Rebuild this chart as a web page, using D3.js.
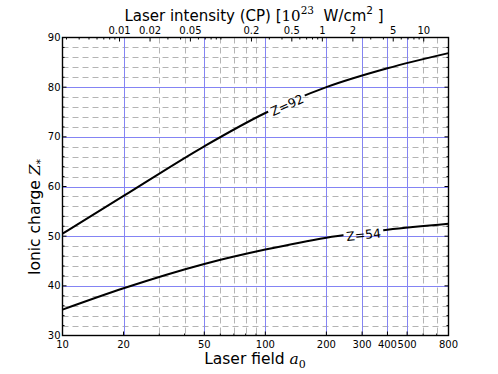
<!DOCTYPE html>
<html>
<head>
<meta charset="utf-8">
<script src="https://cdn.jsdelivr.net/npm/d3@7"></script>
<style>
	body { margin: 0; background: #fff; }
	text { font-family: "DejaVu Sans", sans-serif; fill: #000; }
	.math { font-family: "DejaVu Serif", serif; font-style: italic; }
</style>
</head>
<body>
<svg id="chart" width="498" height="374"></svg>
<script>
// laser field a0 (bottom axis) and ionic charge
const uraniumField = [10, 20, 50, 100, 200, 400, 800];
const uraniumCharge = [50.5, 58.1, 68.1, 74.8, 80, 83.8, 86.85];
const xenonField = [10, 20, 50, 100, 200, 400, 800];
const xenonCharge = [35.2, 39.5, 44.4, 47.3, 49.7, 51.3, 52.5];

// tick positions
const fieldTicks = [10, 20, 50, 100, 200, 300, 400, 500, 800];
const fieldGrid = [20, 50, 100, 200, 300, 400, 500];
const fieldMinor = [30, 40, 60, 70, 80, 90, 600, 700];
const chargeTicks = [30, 40, 50, 60, 70, 80, 90];
const chargeMinor = [32, 34, 36, 38, 42, 44, 46, 48, 52, 54, 56, 58, 62, 64, 66, 68, 72, 74, 76, 78, 82, 84, 86, 88];
const intensityTicks = [0.01, 0.02, 0.05, 0.2, 0.5, 1, 2, 5, 10];
const intensityMinor = [0.003, 0.004, 0.005, 0.006, 0.007, 0.008, 0.009,
	0.03, 0.04, 0.06, 0.07, 0.08, 0.09, 0.1, 0.3, 0.4, 0.6, 0.7, 0.8, 0.9,
	3, 4, 6, 7, 8, 9];

// curve labels (a0, charge, rotation)
const curveLabels = [
	{ name: 'Z=92', field: 128, charge: 76.4, angle: -24 },
	{ name: 'Z=54', field: 305, charge: 50.3, angle: -6 }
];

class ChargeChart {
	constructor(svgId) {
		this.svg = d3.select(svgId);
		this.left = 62.5;
		this.right = 448.5;
		this.top = 37.5;
		this.bottom = 335.5;

		this.x = d3.scaleLog().domain([10, 800]).range([this.left, this.right]);
		this.y = d3.scaleLinear().domain([30, 90]).range([this.bottom, this.top]);
	}

	// CP intensity in 1e23 W/cm^2 -> a0 (lambda = 1 um)
	fieldOf(intensity) {
		return Math.sqrt(intensity * 1e23 / 2.74e18);
	}

	drawGrid() {
		let g = this.svg.append('g');

		g.selectAll('.hminor')
			.data(chargeMinor)
			.enter()
			.append('line')
			.attr('x1', this.left)
			.attr('x2', this.right)
			.attr('y1', d => Math.round(this.y(d)) + 0.5)
			.attr('y2', d => Math.round(this.y(d)) + 0.5)
			.style('stroke', '#b4b4b4')
			.style('stroke-dasharray', '6,4')
		;

		g.selectAll('.vminor')
			.data(fieldMinor)
			.enter()
			.append('line')
			.attr('x1', d => Math.round(this.x(d)) + 0.5)
			.attr('x2', d => Math.round(this.x(d)) + 0.5)
			.attr('y1', this.top)
			.attr('y2', this.bottom)
			.style('stroke', '#b4b4b4')
			.style('stroke-dasharray', '6,4')
		;

		g.selectAll('.hmajor')
			.data(chargeTicks.slice(1, -1))
			.enter()
			.append('line')
			.attr('x1', this.left)
			.attr('x2', this.right)
			.attr('y1', d => Math.round(this.y(d)) + 0.5)
			.attr('y2', d => Math.round(this.y(d)) + 0.5)
			.style('stroke', '#8484f4')
		;

		g.selectAll('.vmajor')
			.data(fieldGrid)
			.enter()
			.append('line')
			.attr('x1', d => Math.round(this.x(d)) + 0.5)
			.attr('x2', d => Math.round(this.x(d)) + 0.5)
			.attr('y1', this.top)
			.attr('y2', this.bottom)
			.style('stroke', '#8484f4')
		;
	}

	drawCurves() {
		let line = d3.line()
			.x(d => this.x(d[0]))
			.y(d => this.y(d[1]))
			.curve(d3.curveMonotoneX)
		;

		// mask out a gap under each label
		let mask = this.svg.append('defs')
			.append('mask')
			.attr('id', 'gaps')
		;
		mask.append('rect')
			.attr('width', 498)
			.attr('height', 374)
			.style('fill', '#fff')
		;
		mask.selectAll('.gap')
			.data(curveLabels)
			.enter()
			.append('rect')
			.attr('x', -20)
			.attr('y', -7)
			.attr('width', 40)
			.attr('height', 14)
			.attr('transform', d => 'translate(' + this.x(d.field) + ',' + this.y(d.charge) + ') rotate(' + d.angle + ')')
			.style('fill', '#000')
		;

		let curves = [
			d3.zip(uraniumField, uraniumCharge),
			d3.zip(xenonField, xenonCharge)
		];

		this.svg.append('g')
			.attr('mask', 'url(#gaps)')
			.selectAll('path')
			.data(curves)
			.enter()
			.append('path')
			.attr('d', line)
			.style('fill', 'none')
			.style('stroke', '#000')
			.style('stroke-width', 2)
		;

		this.svg.selectAll('.clabel')
			.data(curveLabels)
			.enter()
			.append('text')
			.attr('transform', d => 'translate(' + this.x(d.field) + ',' + this.y(d.charge) + ') rotate(' + d.angle + ')')
			.attr('text-anchor', 'middle')
			.attr('dy', '0.36em')
			.style('font-size', '12.5px')
			.text(d => d.name)
		;
	}

	drawAxes() {
		let frame = this.svg.append('g');

		// inward ticks on all four sides
		let tick = (vals, len, side) => {
			frame.selectAll('.t')
				.data(vals)
				.enter()
				.append('line')
				.each((d, i, nodes) => {
					let l = d3.select(nodes[i]);
					if (side == 'bottom' || side == 'top') {
						let px = side == 'top' ? this.x(this.fieldOf(d)) : this.x(d);
						let y0 = side == 'bottom' ? this.bottom : this.top;
						let dir = side == 'bottom' ? -1 : 1;
						l.attr('x1', px).attr('x2', px).attr('y1', y0).attr('y2', y0 + dir * len);
					}
					else {
						let py = this.y(d);
						let x0 = side == 'left' ? this.left : this.right;
						let dir = side == 'left' ? 1 : -1;
						l.attr('y1', py).attr('y2', py).attr('x1', x0).attr('x2', x0 + dir * len);
					}
				})
				.style('stroke', '#000')
				.style('stroke-width', 1)
			;
		};

		tick(fieldTicks, 4, 'bottom');
		tick(fieldMinor, 2, 'bottom');
		tick(chargeTicks, 4, 'left');
		tick(chargeMinor, 2, 'left');
		tick(chargeTicks, 4, 'right');
		tick(chargeMinor, 2, 'right');
		tick(intensityTicks, 4, 'top');
		tick(intensityMinor.filter(d => this.fieldOf(d) > 10 && this.fieldOf(d) < 800), 2, 'top');

		frame.append('rect')
			.attr('x', this.left)
			.attr('y', this.top)
			.attr('width', this.right - this.left)
			.attr('height', this.bottom - this.top)
			.style('fill', 'none')
			.style('stroke', '#000')
			.style('stroke-width', 1.4)
		;

		frame.selectAll('.xlab')
			.data(fieldTicks)
			.enter()
			.append('text')
			.attr('x', d => this.x(d))
			.attr('y', this.bottom + 12)
			.attr('text-anchor', 'middle')
			.style('font-size', '10px')
			.text(d => d)
		;

		frame.selectAll('.toplab')
			.data(intensityTicks)
			.enter()
			.append('text')
			.attr('x', d => this.x(this.fieldOf(d)))
			.attr('y', this.top - 4)
			.attr('text-anchor', 'middle')
			.style('font-size', '10px')
			.text(d => d)
		;

		frame.selectAll('.ylab')
			.data(chargeTicks)
			.enter()
			.append('text')
			.attr('x', this.left - 2)
			.attr('y', d => this.y(d))
			.attr('dy', '0.36em')
			.attr('text-anchor', 'end')
			.style('font-size', '10px')
			.text(d => d)
		;

		// axis titles
		let xt = this.svg.append('text')
			.attr('x', 255)
			.attr('y', 364)
			.attr('text-anchor', 'middle')
			.style('font-size', '15.5px')
		;
		xt.append('tspan').text('Laser field ');
		xt.append('tspan').attr('class', 'math').text('a');
		xt.append('tspan').attr('class', 'math').style('font-size', '11px').style('font-style', 'normal').attr('dy', 4).text('0');

		let yt = this.svg.append('text')
			.attr('transform', 'translate(40,217) rotate(-90)')
			.attr('text-anchor', 'middle')
			.style('font-size', '15.5px')
		;
		yt.append('tspan').text('Ionic charge ');
		yt.append('tspan').attr('class', 'math').text('Z');
		yt.append('tspan').style('font-size', '11px').attr('dy', 4).text('*');

		let tt = this.svg.append('text')
			.attr('x', 254)
			.attr('y', 21)
			.attr('text-anchor', 'middle')
			.style('font-size', '15px')
		;
		tt.append('tspan').text('Laser intensity (CP) [');
		tt.append('tspan').style('font-family', '"DejaVu Serif", serif').text('10');
		tt.append('tspan').style('font-family', '"DejaVu Serif", serif').style('font-size', '10.5px').attr('dy', -7).text('23');
		tt.append('tspan').attr('dy', 7).text('\u00a0\u00a0W/cm');
		tt.append('tspan').style('font-size', '10.5px').attr('dy', -7).text('2');
		tt.append('tspan').attr('dy', 7).text('\u00a0]');
	}
}

let chart = new ChargeChart('#chart');
chart.drawGrid();
chart.drawCurves();
chart.drawAxes();
</script>
</body>
</html>
